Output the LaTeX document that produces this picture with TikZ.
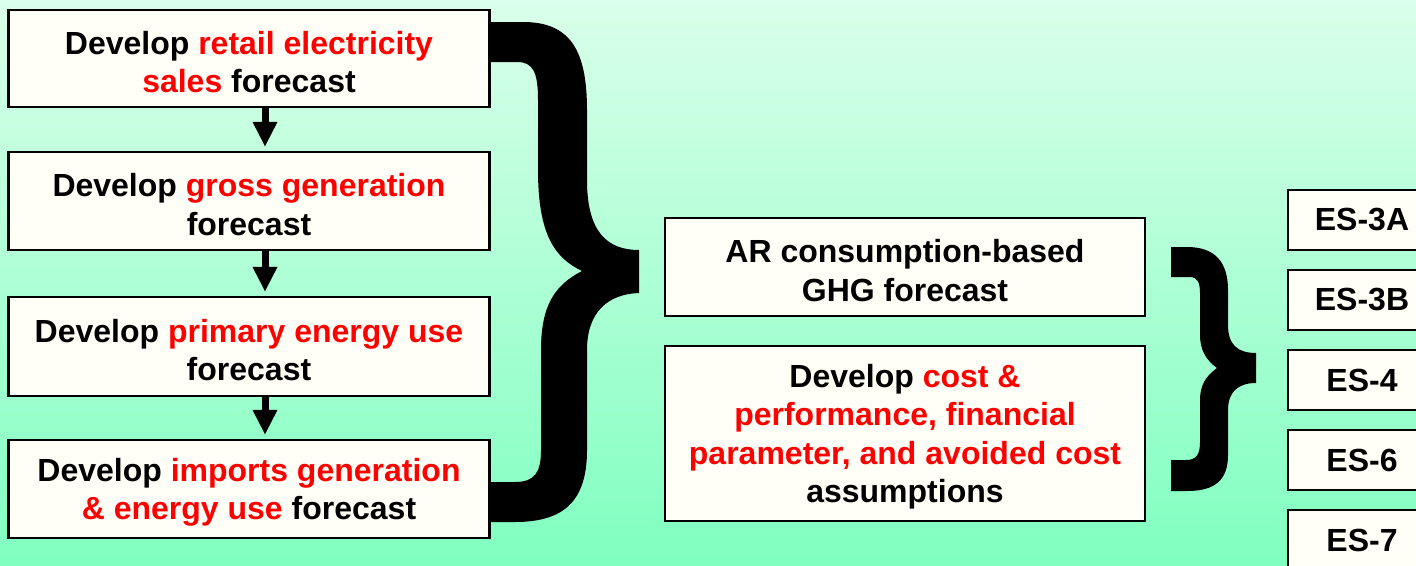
\documentclass[tikz,border=0pt]{standalone}
\usepackage{fontspec}
\setmainfont{Liberation Sans}
\usetikzlibrary{arrows.meta}
\definecolor{bgtop}{RGB}{218,255,234}
\definecolor{bgbot}{RGB}{128,255,192}
\definecolor{boxfill}{RGB}{255,255,247}
\newcommand\rd[1]{\textcolor{red}{#1}}
\newcommand\tp{\rule{0pt}{30pt}}
\begin{document}
\begin{tikzpicture}[x=1pt,y=-1pt,
  box/.style={draw=black, line width=2.2pt, fill=boxfill, inner sep=0pt, align=center,
    font=\fontsize{32}{38.5}\selectfont\bfseries},
  flow/.style={line width=7pt, -{Triangle[width=23pt,length=25pt]}, shorten >=4pt},
  bracefill/.style={fill=black}]
\useasboundingbox (0,0) rectangle (1416,565);
\clip (0,0) rectangle (1416,565);
\shade[top color=bgtop,bottom color=bgbot] (0,0) rectangle (1416,565);

% big brace
\fill[bracefill] (489,22) -- (523,22) .. controls (570,22) and (587,50) .. (587,110)
  -- (587,180) .. controls (587,233) and (608,250) .. (639,250)
  -- (639,293) .. controls (608,294) and (587,312) .. (587,350)
  -- (587,450) .. controls (587,500) and (565,522) .. (515,522)
  -- (489,522) -- (489,482) -- (515,482) .. controls (535,482) and (541,472) .. (541,450)
  -- (541,350) .. controls (541,305) and (555,285) .. (582,271)
  .. controls (555,258) and (538,235) .. (538,170)
  -- (538,100) .. controls (538,72) and (533,62) .. (517,62)
  -- (489,62) -- cycle;

% small brace
\fill[bracefill] (1171,247) -- (1187,247) .. controls (1215,247) and (1228,262) .. (1228,290)
  -- (1228,325) .. controls (1228,345) and (1238,353) .. (1256,353)
  -- (1256,383) .. controls (1238,383) and (1228,392) .. (1228,410)
  -- (1228,455) .. controls (1228,480) and (1215,491) .. (1187,491)
  -- (1171,491) -- (1171,460) -- (1186,460) .. controls (1196,460) and (1200,455) .. (1200,442)
  -- (1200,400) .. controls (1200,385) and (1206,376) .. (1217,368)
  .. controls (1206,360) and (1200,350) .. (1200,335)
  -- (1200,293) .. controls (1200,282) and (1197,277) .. (1190,277)
  -- (1171,277) -- cycle;

% left column
\node[box, minimum width=481pt, minimum height=97pt] (b1) at (249,58.5)
  {\tp Develop \rd{retail electricity}\\\rd{sales} forecast};
\node[box, minimum width=481pt, minimum height=98pt] (b2) at (249,201)
  {\tp Develop \rd{gross generation}\\forecast};
\node[box, minimum width=481pt, minimum height=99pt] (b3) at (249,346.5)
  {\tp Develop \rd{primary energy use}\\forecast};
\node[box, minimum width=481pt, minimum height=98pt] (b4) at (249,489)
  {\tp Develop \rd{imports generation}\\\rd{\& energy use} forecast};

\draw[flow] ([xshift=16pt]b1.south) -- ([xshift=16pt]b2.north);
\draw[flow] ([xshift=16pt]b2.south) -- ([xshift=16pt]b3.north);
\draw[flow] ([xshift=16pt]b3.south) -- ([xshift=16pt]b4.north);

% middle column
\node[box, minimum width=480pt, minimum height=98pt] (mA) at (905,267)
  {\tp AR consumption-based\\GHG forecast};
\node[box, minimum width=480pt, minimum height=175pt] (mB) at (905,433.5)
  {\tp Develop \rd{cost \&}\\\rd{performance, financial}\\\rd{parameter, and avoided cost}\\assumptions};

% right column
\node[box, minimum width=148pt, minimum height=60pt] (e1) at (1362,220) {ES-3A};
\node[box, minimum width=148pt, minimum height=60pt] (e2) at (1362,300) {ES-3B};
\node[box, minimum width=148pt, minimum height=60pt] (e3) at (1362,380) {ES-4};
\node[box, minimum width=148pt, minimum height=60pt] (e4) at (1362,460) {ES-6};
\node[box, minimum width=148pt, minimum height=60pt] (e5) at (1362,540) {ES-7};
\end{tikzpicture}
\end{document}
